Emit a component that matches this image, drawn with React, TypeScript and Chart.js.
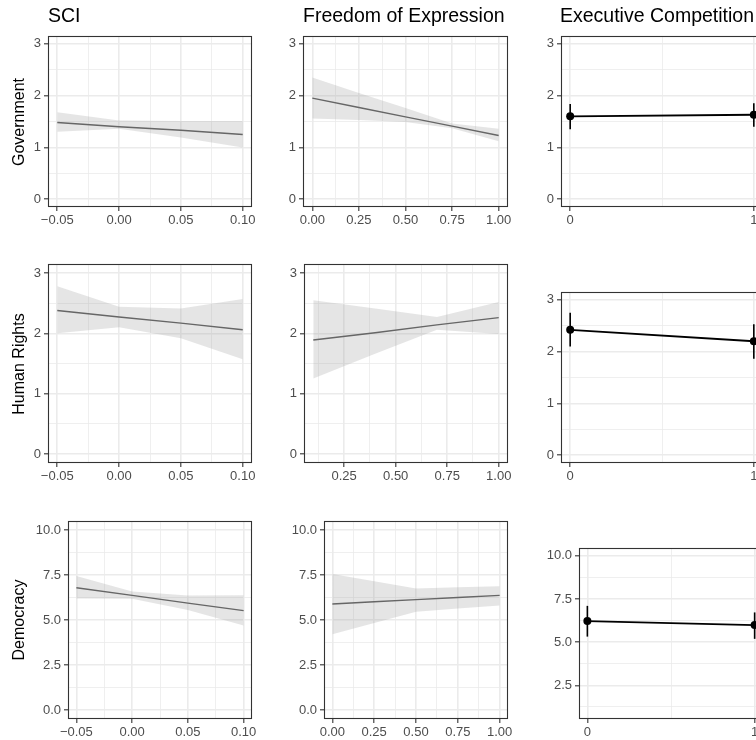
import React, { useEffect, useRef } from "react";
import { Chart, registerables } from "chart.js";

Chart.register(...registerables);

const FONT = '"Liberation Sans", Arial, Helvetica, sans-serif';

// ---------- data ----------
const sciX = [-0.05, 0, 0.05, 0.1];
const sciGovFit = [1.48, 1.40, 1.33, 1.25];
const sciGovUpper = [1.68, 1.52, 1.51, 1.51];
const sciGovLower = [1.30, 1.36, 1.19, 1.0];
const sciHrFit = [2.38, 2.27, 2.17, 2.06];
const sciHrUpper = [2.78, 2.44, 2.41, 2.57];
const sciHrLower = [2.0, 2.1, 1.92, 1.57];
const sciDemFit = [6.79, 6.37, 5.94, 5.52];
const sciDemUpper = [7.44, 6.58, 6.36, 6.37];
const sciDemLower = [6.2, 6.18, 5.55, 4.7];

const foeX = [0, 0.25, 0.5, 0.75, 1];
const foeGovFit = [1.95, 1.77, 1.59, 1.41, 1.23];
const foeGovUpper = [2.35, 2.05, 1.76, 1.46, 1.36];
const foeGovLower = [1.56, 1.53, 1.49, 1.37, 1.12];
const foeDemFit = [5.89, 6.01, 6.13, 6.25, 6.37];
const foeDemUpper = [7.55, 7.15, 6.75, 6.82, 6.88];
const foeDemLower = [4.21, 4.84, 5.46, 5.64, 5.81];
const foeHrX = [0.1, 0.4, 0.7, 1.0];
const foeHrFit = [1.89, 2.01, 2.14, 2.26];
const foeHrUpper = [2.55, 2.41, 2.27, 2.52];
const foeHrLower = [1.25, 1.66, 2.06, 1.99];

const execX = [0, 1];
const execGov = [1.6, 1.63];
const execGovLo = [1.35, 1.4];
const execGovHi = [1.84, 1.85];
const execHr = [2.42, 2.2];
const execHrLo = [2.1, 1.86];
const execHrHi = [2.75, 2.53];
const execDem = [6.22, 5.99];
const execDemLo = [5.32, 5.19];
const execDemHi = [7.1, 6.72];

// ---------- tick labels ----------
const sciTicks = [-0.05, 0, 0.05, 0.1];
const sciTickLabels = ["\u22120.05", "0.00", "0.05", "0.10"];
const foeTicks = [0, 0.25, 0.5, 0.75, 1];
const foeTickLabels = ["0.00", "0.25", "0.50", "0.75", "1.00"];
const foeHrTicks = [0.25, 0.5, 0.75, 1];
const foeHrTickLabels = ["0.25", "0.50", "0.75", "1.00"];
const execTicks = [0, 1];
const execTickLabels = ["0", "1"];
const y3Ticks = [0, 1, 2, 3];
const y3TickLabels = ["0", "1", "2", "3"];
const y10Ticks = [0, 2.5, 5, 7.5, 10];
const y10TickLabels = ["0.0", "2.5", "5.0", "7.5", "10.0"];
const yExecDemTicks = [2.5, 5, 7.5, 10];
const yExecDemTickLabels = ["2.5", "5.0", "7.5", "10.0"];

const columnTitles = ["SCI", "Freedom of Expression", "Executive Competition"];
const rowTitles = ["Government", "Human Rights", "Democracy"];

// ---------- styling ----------
const PAD_L = 50;
const PAD_T = 12;
const PAD_R = 26;
const PAD_B = 30;
const GRID = "#EBEBEB";
const INK = "#333333";
const TICK_TEXT = "#4D4D4D";
const RIBBON = "rgba(153,153,153,0.25)";
const FIT = "#666666";

type AxisSpec = { min: number; max: number; ticks: number[]; labels: string[] };

type PanelSpec = {
  id: string;
  left: number;
  top: number;
  width: number;
  height: number;
  x: AxisSpec;
  y: AxisSpec;
  datasets: any[];
};

const pts = (xs: number[], ys: number[]) => xs.map((x, i) => ({ x, y: ys[i] }));

function smoothSets(xs: number[], fit: number[], upper: number[], lower: number[]) {
  return [
    { data: pts(xs, fit), borderColor: FIT, borderWidth: 1.4, pointRadius: 0, fill: false },
    { data: pts(xs, upper), borderColor: "transparent", borderWidth: 1, pointRadius: 0, fill: "+1", backgroundColor: RIBBON },
    { data: pts(xs, lower), borderColor: "transparent", borderWidth: 1, pointRadius: 0, fill: false },
  ];
}

function rangeSets(xs: number[], mid: number[], lo: number[], hi: number[]) {
  return [
    {
      data: pts(xs, mid),
      borderColor: "#000000",
      borderWidth: 1.8,
      pointRadius: 4,
      pointBackgroundColor: "#000000",
      pointBorderWidth: 0,
      fill: false,
    },
    ...xs.map((x, i) => ({
      data: [
        { x, y: lo[i] },
        { x, y: hi[i] },
      ],
      borderColor: "#000000",
      borderWidth: 1.6,
      pointRadius: 0,
      fill: false,
    })),
  ];
}

// major breaks plus the half-way minor breaks that fall inside the limits
function allBreaks(a: AxisSpec) {
  const step = a.ticks.length > 1 ? a.ticks[1] - a.ticks[0] : 1;
  const out: number[] = [];
  out.push(a.ticks[0] - step / 2);
  a.ticks.forEach((t) => {
    out.push(t);
    out.push(t + step / 2);
  });
  return out.filter((v) => v > a.min && v < a.max).sort((p, q) => p - q);
}

const majorIndex = (a: AxisSpec, v: number) => a.ticks.findIndex((t) => Math.abs(t - v) < 1e-9);

function scaleOptions(a: AxisSpec, horizontal: boolean) {
  const breaks = allBreaks(a);
  return {
    type: "linear",
    min: a.min,
    max: a.max,
    bounds: "data",
    afterBuildTicks: (s: any) => {
      s.ticks = breaks.map((value) => ({ value }));
    },
    afterFit: (s: any) => {
      if (horizontal) s.height = PAD_B;
      else s.width = PAD_L;
    },
    ticks: {
      autoSkip: false,
      maxRotation: 0,
      minRotation: 0,
      padding: horizontal ? 2 : 3,
      color: TICK_TEXT,
      font: { family: FONT, size: 13 },
      callback: (v: number) => {
        const k = majorIndex(a, v);
        return k >= 0 ? a.labels[k] : "";
      },
    },
    grid: {
      drawTicks: true,
      tickLength: 4,
      color: GRID,
      lineWidth: (ctx: any) => (ctx.tick && majorIndex(a, ctx.tick.value) >= 0 ? 1.6 : 0.8),
      tickColor: (ctx: any) => (ctx.tick && majorIndex(a, ctx.tick.value) >= 0 ? INK : "rgba(0,0,0,0)"),
      tickWidth: 1.1,
    },
    border: { display: false },
  };
}

const panelBorder = {
  id: "panelBorder",
  afterDatasetsDraw(chart: any) {
    const { ctx, chartArea: a } = chart;
    ctx.save();
    ctx.strokeStyle = INK;
    ctx.lineWidth = 1.1;
    ctx.strokeRect(a.left + 0.5, a.top + 0.5, a.right - a.left - 1, a.bottom - a.top - 1);
    ctx.restore();
  },
};

function Panel({ spec }: { spec: PanelSpec }) {
  const ref = useRef<HTMLCanvasElement | null>(null);
  const w = PAD_L + spec.width + PAD_R;
  const h = PAD_T + spec.height + PAD_B;
  useEffect(() => {
    if (!ref.current) return;
    const chart = new Chart(ref.current, {
      type: "line",
      data: { datasets: spec.datasets },
      options: {
        animation: false,
        responsive: false,
        events: [],
        layout: { padding: { left: 0, top: PAD_T, right: PAD_R, bottom: 0 } },
        plugins: { legend: { display: false }, tooltip: { enabled: false }, title: { display: false } },
        scales: {
          x: scaleOptions(spec.x, true),
          y: scaleOptions(spec.y, false),
        } as any,
      },
      plugins: [panelBorder],
    } as any);
    return () => chart.destroy();
  }, [spec]);
  return (
    <canvas
      ref={ref}
      width={w}
      height={h}
      style={{ position: "absolute", left: spec.left - PAD_L, top: spec.top - PAD_T, width: w, height: h }}
    />
  );
}

const sciAxis: AxisSpec = { min: -0.0575, max: 0.1075, ticks: sciTicks, labels: sciTickLabels };
const foeAxis: AxisSpec = { min: -0.05, max: 1.05, ticks: foeTicks, labels: foeTickLabels };
const foeHrAxis: AxisSpec = { min: 0.055, max: 1.045, ticks: foeHrTicks, labels: foeHrTickLabels };
const execAxis: AxisSpec = { min: -0.05, max: 1.05, ticks: execTicks, labels: execTickLabels };
const y3Axis: AxisSpec = { min: -0.15, max: 3.15, ticks: y3Ticks, labels: y3TickLabels };
const y10Axis: AxisSpec = { min: -0.5, max: 10.5, ticks: y10Ticks, labels: y10TickLabels };
const yExecDemAxis: AxisSpec = { min: 0.55, max: 10.45, ticks: yExecDemTicks, labels: yExecDemTickLabels };

const panels: PanelSpec[] = [
  { id: "sci-gov", left: 48, top: 36, width: 204, height: 171, x: sciAxis, y: y3Axis, datasets: smoothSets(sciX, sciGovFit, sciGovUpper, sciGovLower) },
  { id: "foe-gov", left: 303, top: 36, width: 205, height: 171, x: foeAxis, y: y3Axis, datasets: smoothSets(foeX, foeGovFit, foeGovUpper, foeGovLower) },
  { id: "exec-gov", left: 561, top: 36, width: 202, height: 171, x: execAxis, y: y3Axis, datasets: rangeSets(execX, execGov, execGovLo, execGovHi) },
  { id: "sci-hr", left: 48, top: 264, width: 204, height: 199, x: sciAxis, y: y3Axis, datasets: smoothSets(sciX, sciHrFit, sciHrUpper, sciHrLower) },
  { id: "foe-hr", left: 304, top: 264, width: 204, height: 199, x: foeHrAxis, y: y3Axis, datasets: smoothSets(foeHrX, foeHrFit, foeHrUpper, foeHrLower) },
  { id: "exec-hr", left: 561, top: 292, width: 202, height: 171, x: execAxis, y: y3Axis, datasets: rangeSets(execX, execHr, execHrLo, execHrHi) },
  { id: "sci-dem", left: 68, top: 521, width: 184, height: 198, x: sciAxis, y: y10Axis, datasets: smoothSets(sciX, sciDemFit, sciDemUpper, sciDemLower) },
  { id: "foe-dem", left: 324, top: 521, width: 184, height: 198, x: foeAxis, y: y10Axis, datasets: smoothSets(foeX, foeDemFit, foeDemUpper, foeDemLower) },
  { id: "exec-dem", left: 579, top: 548, width: 184, height: 171, x: execAxis, y: yExecDemAxis, datasets: rangeSets(execX, execDem, execDemLo, execDemHi) },
];

const titleLefts = [48, 303, 560];
const rowCenters = [121.5, 363.5, 620];

export default function App() {
  return (
    <div
      style={{
        position: "fixed",
        left: 0,
        top: 0,
        width: 756,
        height: 740,
        overflow: "hidden",
        background: "#ffffff",
        fontFamily: FONT,
      }}
    >
      {panels.map((p) => (
        <Panel key={p.id} spec={p} />
      ))}
      {columnTitles.map((t, i) => (
        <div
          key={t}
          style={{
            position: "absolute",
            left: titleLefts[i],
            top: 6,
            fontSize: 19.5,
            lineHeight: "19.5px",
            color: "#000000",
            whiteSpace: "nowrap",
          }}
        >
          {t}
        </div>
      ))}
      {rowTitles.map((t, i) => (
        <div
          key={t}
          style={{
            position: "absolute",
            left: 19,
            top: rowCenters[i],
            fontSize: 16,
            lineHeight: "16px",
            color: "#000000",
            whiteSpace: "nowrap",
            transform: "translate(-50%, -50%) rotate(-90deg)",
          }}
        >
          {t}
        </div>
      ))}
    </div>
  );
}
